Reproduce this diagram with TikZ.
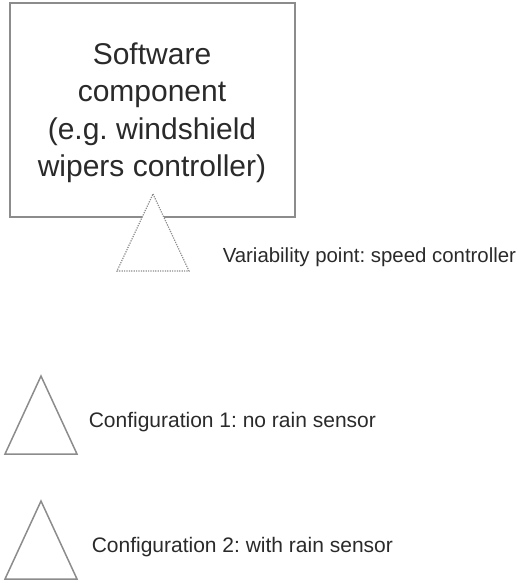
\documentclass[tikz,border=0pt]{standalone}
\usepackage{fontspec}
\setmainfont{Liberation Sans}
\usetikzlibrary{positioning}
\frenchspacing

\definecolor{edgegrey}{HTML}{8C8C8C}
\definecolor{inkgrey}{HTML}{2A2A2A}

\begin{document}
\begin{tikzpicture}[x=1pt, y=-1pt, line width=1.5pt,
            compbox/.style={
            draw=edgegrey,
            line width=2pt,
            fill=white,
            rectangle,
            minimum width=285pt,
            minimum height=214pt},
            complabel/.style={
            text=inkgrey,
            align=center,
            font=\fontsize{30}{37.5}\selectfont},
            lbl/.style={
            text=inkgrey,
            anchor=base west,
            inner sep=0pt,
            font=\fontsize{21}{25}\selectfont},
            vartri/.style={
            draw=edgegrey,
            fill=white,
            line width=1.2pt,
            dash pattern=on 1.2pt off 1.2pt},
            conftri/.style={
            draw=edgegrey,
            line width=1.5pt}]

      \useasboundingbox (0,0) rectangle (523,583);

      % component and its variability point
      \node[compbox] (comp) at (152.5,110) {};
      \node[complabel] (comptext) at (152,113) {Software\\component\\(e.g. windshield\\wipers controller)};
      \coordinate (vp) at (153,194);
      \draw[vartri] (vp) -- ++(36,77) -- ++(-72,0) -- cycle;
      \node[lbl, font=\fontsize{20.4}{25}\selectfont] (vplabel) at (222,262) {Variability point: speed controller};

      % configurations
      \foreach \n/\y/\x/\txt in {1/376/88/no rain sensor, 2/501/91/with rain sensor}
      {
           \coordinate (conf\n) at (41,\y);
           \draw[conftri] (conf\n) -- ++(36,78) -- ++(-72,0) -- cycle;
           \node[lbl] (conflabel\n) at (\x,\y+51) {Configuration \n: \txt};
      }
\end{tikzpicture}
\end{document}
